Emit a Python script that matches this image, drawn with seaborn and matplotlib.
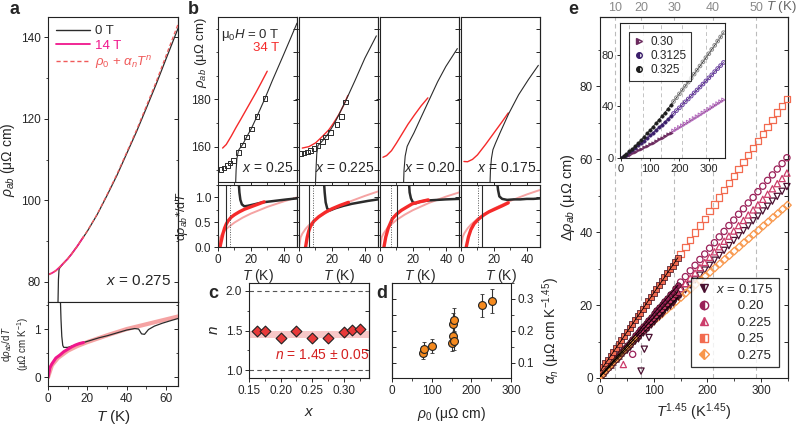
import seaborn as sns
import matplotlib.pyplot as plt
from matplotlib.ticker import MultipleLocator
from matplotlib.lines import Line2D

# ---------------- panel a : x = 0.275 ----------------
a_T_fit = [0, 2, 4, 6, 8, 10, 12, 15, 18, 20, 25, 30, 35, 40, 45, 50, 55, 60, 67]
a_rho_fit = [81.7, 82.1, 82.7, 83.6, 84.6, 85.6, 86.8, 88.8, 91.0, 92.5, 96.6, 101.4,
             106.4, 111.8, 117.3, 123.2, 129.2, 135.6, 144.5]
a_T_0T = [4.8, 5.0, 5.3, 5.6, 6.0, 6.5, 7, 8, 10, 12, 15, 20, 25, 30, 35, 40, 45, 50, 55, 60, 67]
a_rho_0T = [70, 73, 80.5, 83.0, 83.4, 83.7, 84.0, 84.6, 85.6, 86.8, 88.8, 92.4, 96.5, 101.2,
            106.1, 111.5, 116.9, 122.7, 128.6, 134.8, 143.4]
a_T_14T = [0, 2, 4, 6, 8, 10, 12, 15, 18]
a_rho_14T = [81.7, 82.1, 82.7, 83.6, 84.6, 85.6, 86.8, 88.8, 91.0]

a_T_dfit = [0, 2, 5, 10, 15, 20, 30, 40, 50, 60, 67]
a_dfit = [0, 0.25, 0.4, 0.55, 0.65, 0.73, 0.87, 1.0, 1.1, 1.2, 1.27]
a_T_d0T = [6.3, 6.6, 7, 7.5, 8, 10, 14, 18, 22, 26, 30, 35, 40, 44, 46, 47.5, 49, 51, 54, 58, 62, 67]
a_d0T = [1.6, 1.2, 0.85, 0.66, 0.62, 0.62, 0.67, 0.72, 0.77, 0.82, 0.86, 0.92, 0.98, 1.01,
         1.0, 0.9, 0.89, 0.99, 1.06, 1.12, 1.17, 1.23]
a_T_d14T = [0, 0.5, 1, 2, 3, 4, 6, 8, 10, 12, 14, 16, 18]
a_d14T = [0, 0.1, 0.2, 0.28, 0.34, 0.4, 0.46, 0.53, 0.58, 0.63, 0.67, 0.7, 0.72]

# ---------------- panel b : four dopings ----------------
b_labels = ['0.25', '0.225', '0.20', '0.175']
b_T0 = [[10.5, 11.0, 11.5, 12.5, 14, 15, 17.4, 20.2, 23.8, 28.5, 33, 39.6, 44, 48],
        [9.8, 10.3, 10.8, 11.5, 13, 15, 18, 21, 24, 28.3, 34, 40, 47],
        [14.1, 14.6, 15.3, 16.5, 18.5, 20.6, 25, 30, 35, 40, 47],
        [17.4, 17.9, 18.5, 19.4, 21, 24, 29, 35, 41, 47]]
b_rho0 = [[140, 150, 155, 158.5, 160, 160.9, 164.1, 167.6, 173, 180.4, 188, 198.6, 205.8, 212.4],
          [140, 150, 157, 160.5, 161.5, 163, 165.8, 169.2, 173.2, 179.3, 188, 197.5, 207],
          [140, 150, 156, 160.1, 163, 165.8, 172.5, 180, 187.5, 194, 201.6],
          [140, 150, 155, 158.7, 161.5, 166.3, 174, 182, 188.5, 194.5]]
b_T34 = [[2.8, 5, 8, 11, 14, 17, 20, 23, 26, 29.9],
         [2, 6, 10.1, 14, 18.2, 21, 24.2, 27, 29.7],
         [1.8, 4, 7, 10, 13.5, 17, 21, 25, 29.1],
         [1.8, 4, 7, 10, 15, 20, 25, 28.7]]
b_rho34 = [[159.4, 160.9, 164.4, 168.2, 171.8, 175.5, 179.2, 182.9, 186.8, 192.0],
           [159.4, 160.0, 161.6, 164.2, 167.2, 170.0, 173.6, 177.4, 181.7],
           [155.5, 156.2, 158.3, 161.5, 165.5, 169.5, 173.5, 177.3, 180.7],
           [153.7, 153.6, 154.6, 156.5, 161.0, 165.8, 170.6, 174.3]]
b_Tsq = [[1.8, 3.6, 5.7, 7.3, 9.3, 12.3, 15, 17.4, 20.2, 23.8, 28.5],
         [1, 3, 5, 7, 9.1, 11.5, 14.1, 16.2, 19.2, 23.2, 25.9, 28.3], [], []]
b_rhosq = [[150.2, 150.9, 152.1, 153.1, 154.0, 157.6, 160.7, 164.1, 167.5, 172.9, 180.4],
           [157, 157.3, 157.7, 158.4, 159.1, 160.4, 162.3, 164.1, 166.1, 169.4, 172.9, 178.9], [], []]

b_Tc_solid = [4.8, 6.1, 10.5, 12.9]
b_Tc_dot = [7.3, 8.7, 6.9, 10.5]
b_Td0 = [[12.6, 13.0, 13.6, 14.5, 16, 18, 22, 27, 32, 37, 42, 48],
         [15.2, 15.6, 16.2, 17.2, 19, 22, 27, 32, 37, 42, 48],
         [17.6, 18.0, 18.8, 20, 21.6, 25, 30, 35, 40, 48],
         [22, 22.5, 23.3, 25, 28, 32, 36, 40, 44, 48]]
b_d0 = [[1.3, 1.1, 0.95, 0.86, 0.82, 0.83, 0.86, 0.9, 0.92, 0.94, 0.96, 0.98],
        [1.3, 1.1, 0.9, 0.77, 0.74, 0.78, 0.83, 0.87, 0.9, 0.93, 0.96],
        [1.3, 1.1, 0.98, 0.9, 0.88, 0.92, 0.94, 0.95, 0.96, 0.97],
        [1.3, 1.15, 1.02, 0.97, 0.95, 0.96, 0.96, 0.97, 0.97, 0.98]]
b_Td34 = [[1.2, 2, 3, 4, 5, 6, 8, 10, 13, 16, 20, 24, 28],
          [4.0, 5, 6, 7, 9, 12, 16, 20, 25, 30],
          [2.4, 3.5, 5, 7.5, 10, 13, 16, 19.6, 24, 29.3],
          [3.2, 4.5, 6, 8, 10.9, 14, 17, 21, 25, 28.7]]
b_d34 = [[0, 0.12, 0.27, 0.38, 0.46, 0.52, 0.6, 0.65, 0.71, 0.76, 0.81, 0.86, 0.91],
         [0, 0.2, 0.33, 0.42, 0.52, 0.61, 0.7, 0.77, 0.84, 0.9],
         [0, 0.2, 0.38, 0.57, 0.66, 0.74, 0.8, 0.87, 0.91, 0.95],
         [0, 0.2, 0.35, 0.47, 0.57, 0.65, 0.71, 0.77, 0.83, 0.89]]
b_Tdfit = [0, 1, 2, 4, 6, 10, 15, 20, 30, 40, 48]
b_dfit = [[0, 0.175, 0.239, 0.327, 0.392, 0.493, 0.592, 0.674, 0.809, 0.92, 1.0],
          [0, 0.196, 0.268, 0.366, 0.439, 0.552, 0.662, 0.755, 0.906, 1.03, 1.12],
          [0, 0.193, 0.264, 0.36, 0.432, 0.544, 0.652, 0.743, 0.892, 1.015, 1.1],
          [0, 0.201, 0.275, 0.376, 0.451, 0.567, 0.681, 0.776, 0.931, 1.06, 1.15]]

# ---------------- panel c : exponent n ----------------
c_x = [0.1625, 0.175, 0.20, 0.225, 0.25, 0.275, 0.30, 0.3125, 0.325]
c_n = [1.50, 1.50, 1.40, 1.50, 1.40, 1.40, 1.48, 1.51, 1.52]

# ---------------- panel d : alpha_n vs rho_0 ----------------
d_rho0 = [78, 81, 102, 152, 153, 157, 153, 157, 226, 252]
d_alpha = [0.132, 0.145, 0.153, 0.163, 0.222, 0.234, 0.184, 0.169, 0.280, 0.294]
d_err = [0.02, 0.022, 0.022, 0.025, 0.035, 0.037, 0.03, 0.03, 0.035, 0.037]

# ---------------- panel e : delta rho vs T^1.45 ----------------
e_x_34T = [0, 5, 10, 15, 20, 25, 30, 35, 40, 45, 50, 55, 60, 65, 70, 75, 80, 85, 90, 95,
           100, 105, 110, 115, 120, 125, 130, 135, 140, 145]
e_x_0T = [150, 159, 168, 177, 186, 195, 204, 213, 222, 231, 240, 249, 258, 267, 276, 285,
          294, 303, 312, 321, 330, 339, 348]
e175_34T = [0.3, 1.1, 1.8, 2.6, 3.3, 4.1, 4.8, 5.6, 6.3, 7.1, 7.8, 8.6, 9.3, 10.1, 10.8, 11.6,
            12.3, 13.1, 13.8, 14.6, 15.3, 16.1, 16.8, 17.6, 18.3, 19.1, 19.8, 20.6, 21.3, 22.1]
e175_0T = [22.8, 24.2, 25.5, 26.9, 28.2, 29.6, 30.9, 32.3, 33.6, 35.0, 36.3, 37.7, 39.0, 40.4,
           41.7, 43.1, 44.4, 45.8, 47.1, 48.5, 49.8, 51.2, 52.5]
e175_out_x = [76.4, 82.6, 91.3]
e175_out_y = [1.9, 7.9, 11.1]
e20_34T = [0.5, 1.4, 2.2, 3.1, 3.9, 4.8, 5.7, 6.5, 7.4, 8.2, 9.1, 10.0, 10.8, 11.7, 12.5, 13.4,
           14.3, 15.1, 16.0, 16.8, 17.7, 18.6, 19.4, 20.3, 21.1, 22.0, 22.9, 23.7, 24.6, 25.4]
e20_0T = [26.3, 27.8, 29.4, 30.9, 32.5, 34.0, 35.6, 37.1, 38.7, 40.2, 41.8, 43.3, 44.9, 46.4,
          48.0, 49.5, 51.1, 52.6, 54.2, 55.7, 57.3, 58.8, 60.4]
e20_out_x = [60.8]
e20_out_y = [6.5]
e225_34T = [0.5, 1.3, 2.1, 2.9, 3.7, 4.5, 5.3, 6.1, 6.9, 7.7, 8.5, 9.3, 10.1, 10.9, 11.7, 12.5,
            13.3, 14.1, 14.9, 15.7, 16.5, 17.3, 18.1, 18.9, 19.7, 20.5, 21.3, 22.1, 22.9, 23.7]
e225_0T = [24.5, 25.9, 27.4, 28.8, 30.3, 31.7, 33.1, 34.6, 36.0, 37.5, 38.9, 40.3, 41.8, 43.2,
           44.7, 46.1, 47.5, 49.0, 50.4, 51.9, 53.3, 54.7, 56.2]
e225_out_x = [43.5]
e225_out_y = [3.7]
e25_34T = [1.8, 2.9, 4.0, 5.0, 6.1, 7.2, 8.3, 9.3, 10.4, 11.5, 12.6, 13.6, 14.7, 15.8, 16.9,
           17.9, 19.0, 20.1, 21.2, 22.2, 23.3, 24.4, 25.5, 26.5, 27.6, 28.7, 29.8, 30.8, 31.9, 33.0]
e25_0T = [34.1, 36.0, 37.9, 39.9, 41.8, 43.7, 45.7, 47.6, 49.5, 51.5, 53.4, 55.3, 57.3, 59.2,
          61.1, 63.1, 65.0, 66.9, 68.9, 70.8, 72.8, 74.7, 76.6]
e275_x_14T = [0, 5, 10, 15, 20, 25, 30, 35, 40, 45, 50, 55, 60, 65]
e275_14T = [0.4, 1.2, 2.0, 2.8, 3.7, 4.5, 5.3, 6.1, 6.9, 7.7, 8.6, 9.4, 10.2, 11.0]
e275_x_0T = [70, 79, 88, 97, 106, 115, 124, 133, 142, 151, 160, 169, 178, 187, 196, 205, 214,
             223, 232, 241, 250, 259, 268, 277, 286, 295, 304, 313, 322, 331, 340, 349]
e275_0T = [11.8, 12.9, 14.1, 15.2, 16.4, 17.5, 18.7, 19.8, 21.0, 22.1, 23.3, 24.4, 25.6, 26.7,
           27.9, 29.0, 30.2, 31.3, 32.5, 33.6, 34.8, 35.9, 37.1, 38.2, 39.4, 40.5, 41.7, 42.8,
           44.0, 45.1, 46.3, 47.4]
e_T_marks = [10, 20, 30, 40, 50]

# inset of e : x = 0.30, 0.3125, 0.325
ins_x_fill = [0, 10, 20, 30, 40, 50, 60, 70, 80, 90, 100, 110, 120, 130, 140, 150, 160, 170]
ins_x_open = [180, 190, 200, 210, 220, 230, 240, 250, 260, 270, 280, 290, 300, 310, 320, 330, 340, 350]
ins30_fill = [0, 0.75, 1.7, 2.7, 3.7, 4.8, 5.9, 7.1, 8.2, 9.4, 10.7, 11.9, 13.1, 14.4, 15.7, 17.0, 18.3, 19.6]
ins30_open = [21.0, 22.3, 23.7, 25.0, 26.4, 27.8, 29.2, 30.6, 32.0, 33.4, 34.9, 36.3, 37.7, 39.2, 40.7, 42.1, 43.6, 45.0]
ins3125_fill = [0, 1.2, 2.7, 4.4, 6.1, 7.9, 9.7, 11.6, 13.5, 15.5, 17.5, 19.5, 21.6, 23.7, 25.8, 28.0, 30.1, 32.3]
ins3125_open = [34.5, 36.7, 38.9, 41.2, 43.5, 45.7, 48.0, 50.4, 52.7, 55.0, 57.3, 59.7, 62.1, 64.4, 66.9, 69.3, 71.6, 74.0]
ins325_fill = [0, 1.4, 3.1, 5.1, 7.2, 9.4, 11.7, 14.1, 16.6, 19.1, 21.6, 24.2, 26.9, 29.6, 32.3, 35.1, 37.9, 40.9]
ins325_open = [43.8, 46.7, 49.7, 52.7, 55.7, 58.8, 61.9, 65.0, 68.1, 71.3, 74.5, 77.7, 80.8, 84.1, 87.3, 90.6, 93.8, 97.1]

MAG = '#f0168c'
RED = '#f52a2a'
PINK = '#f5a3a3'
BLK = '#2b2b2b'

sns.set_style('ticks')
plt.rcParams.update({
    'font.family': ['Liberation Sans', 'DejaVu Sans'],
    'mathtext.fontset': 'custom',
    'mathtext.rm': 'Liberation Sans',
    'mathtext.it': 'Liberation Sans:italic',
    'mathtext.bf': 'Liberation Sans:bold',
    'axes.linewidth': 0.8,
    'axes.edgecolor': '#222222',
    'xtick.labelsize': 8.5,
    'ytick.labelsize': 8.5,
    'axes.labelsize': 10,
    'xtick.major.size': 3, 'ytick.major.size': 3,
    'xtick.minor.size': 1.8, 'ytick.minor.size': 1.8,
    'xtick.major.width': 0.7, 'ytick.major.width': 0.7,
    'xtick.minor.width': 0.6, 'ytick.minor.width': 0.6,
    'xtick.major.pad': 2, 'ytick.major.pad': 2,
})

fig = plt.figure(figsize=(7.98, 4.25), dpi=100)


def box(left, top, w, h):
    # place axes using pixel rectangle of the 798x425 canvas
    return fig.add_axes([left / 798, 1 - (top + h) / 425, w / 798, h / 425])


def curve(ax, x, y, **kw):
    sns.lineplot(x=x, y=y, ax=ax, estimator=None, sort=False, legend=False, **kw)


def dots(ax, x, y, **kw):
    sns.scatterplot(x=x, y=y, ax=ax, legend=False, **kw)


def mirror(ax, major, minor=None, side='right'):
    sec = ax.secondary_yaxis(side)
    sec.yaxis.set_major_locator(MultipleLocator(major))
    if minor:
        sec.yaxis.set_minor_locator(MultipleLocator(minor))
    sec.tick_params(which='both', direction='in', labelright=False, labelleft=False)
    return sec


one_dec = plt.FuncFormatter(lambda v, p: f'{v:.1f}')

# ================= panel a =================
ax_a = box(48, 17, 130, 285)
curve(ax_a, a_T_0T, a_rho_0T, color=BLK, lw=0.9)
curve(ax_a, a_T_14T, a_rho_14T, color=MAG, lw=1.3)
curve(ax_a, a_T_fit, a_rho_fit, color='#f05a5a', lw=0.9, linestyle=(0, (3, 2)))
ax_a.set_xlim(0, 66)
ax_a.set_ylim(75, 145)
ax_a.yaxis.set_major_locator(MultipleLocator(20))
ax_a.yaxis.set_minor_locator(MultipleLocator(10))
ax_a.xaxis.set_major_locator(MultipleLocator(20))
ax_a.xaxis.set_minor_locator(MultipleLocator(10))
ax_a.tick_params(labelbottom=False)
mirror(ax_a, 20, 10)
ax_a.set_ylabel(r'$\rho_{ab}$ (μΩ cm)', labelpad=3)
ax_a.text(0.95, 0.06, r'$x$ = 0.275', transform=ax_a.transAxes, ha='right', fontsize=11)
h_a = [Line2D([], [], color=BLK, lw=1),
       Line2D([], [], color=MAG, lw=1.3),
       Line2D([], [], color='#f05a5a', lw=1, ls=(0, (3, 2)))]
leg = ax_a.legend(h_a, ['0 T', '14 T', r'$\rho_0$ + $\alpha_n T^n$'], loc='upper left',
                  bbox_to_anchor=(0.02, 0.99), frameon=False, fontsize=9.5,
                  handlelength=2.6, handletextpad=0.4, labelspacing=0.15, borderaxespad=0)
for t, c in zip(leg.get_texts(), [BLK, MAG, '#f05a5a']):
    t.set_color(c)

ax_a2 = box(48, 302, 130, 84)
curve(ax_a2, a_T_dfit, a_dfit, color=PINK, lw=3)
curve(ax_a2, a_T_d0T, a_d0T, color=BLK, lw=0.9)
curve(ax_a2, a_T_d14T, a_d14T, color=MAG, lw=2.2)
ax_a2.set_xlim(0, 66)
ax_a2.set_ylim(-0.18, 1.56)
ax_a2.yaxis.set_major_locator(MultipleLocator(1))
ax_a2.yaxis.set_minor_locator(MultipleLocator(0.5))
ax_a2.xaxis.set_major_locator(MultipleLocator(20))
ax_a2.xaxis.set_minor_locator(MultipleLocator(10))
mirror(ax_a2, 1, 0.5)
ax_a2.set_xlabel(r'$T$ (K)', fontsize=11, labelpad=2)
# two-line y label, placed line by line so it stays inside the canvas
fig.text(7 / 798, 1 - 344 / 425, r'd$\rho_{ab}$/d$T$', rotation=90, fontsize=7,
         ha='center', va='center')
fig.text(23 / 798, 1 - 344 / 425, r'(μΩ cm K$^{-1}$)', rotation=90, fontsize=7,
         ha='center', va='center')

# ================= panel b =================
for i, left in enumerate([218, 299, 380, 461]):
    top_ax = box(left, 17, 79, 165)
    curve(top_ax, b_T34[i], b_rho34[i], color=RED, lw=1.0)
    curve(top_ax, b_T0[i], b_rho0[i], color=BLK, lw=0.8)
    if b_Tsq[i]:
        dots(top_ax, b_Tsq[i], b_rhosq[i], marker='s', s=11, facecolors='none',
             edgecolor=BLK, linewidth=0.7, zorder=5)
    top_ax.set_xlim(0, 48)
    top_ax.set_ylim(145, 215)
    top_ax.set_yticks([160, 180])
    top_ax.yaxis.set_minor_locator(MultipleLocator(10))
    top_ax.xaxis.set_major_locator(MultipleLocator(20))
    top_ax.xaxis.set_minor_locator(MultipleLocator(10))
    top_ax.tick_params(labelbottom=False)
    mirror(top_ax, 10)
    top_ax.text(0.96, 0.04, r'$x$ = ' + b_labels[i], transform=top_ax.transAxes,
                ha='right', va='bottom', fontsize=10)

    bot_ax = box(left, 185, 79, 62)
    curve(bot_ax, b_Tdfit, b_dfit[i], color=PINK, lw=1.4)
    curve(bot_ax, b_Td0[i], b_d0[i], color=BLK, lw=1.8)
    curve(bot_ax, b_Td34[i], b_d34[i], color=RED, lw=2.4)
    bot_ax.axvline(b_Tc_solid[i], color=BLK, lw=0.8)
    bot_ax.axvline(b_Tc_dot[i], color='#555555', lw=0.7, ls=(0, (1, 1.5)))
    bot_ax.set_xlim(0, 48)
    bot_ax.set_ylim(0, 1.25)
    bot_ax.yaxis.set_major_locator(MultipleLocator(0.5))
    bot_ax.yaxis.set_minor_locator(MultipleLocator(0.25))
    bot_ax.yaxis.set_major_formatter(one_dec)
    bot_ax.xaxis.set_major_locator(MultipleLocator(20))
    bot_ax.xaxis.set_minor_locator(MultipleLocator(10))
    mirror(bot_ax, 0.25)
    bot_ax.set_xlabel(r'$T$ (K)', fontsize=10, labelpad=1)
    if i == 0:
        top_ax.set_ylabel(r'$\rho_{ab}$ (μΩ cm)', loc='top', fontsize=9.5)
        top_ax.yaxis.set_label_coords(-0.12, 1.0)
        top_ax.text(0.78, 0.94, r'μ$_0$$H$ = 0 T', transform=top_ax.transAxes,
                    ha='right', va='top', fontsize=9.5, color=BLK)
        top_ax.text(0.78, 0.85, '34 T', transform=top_ax.transAxes,
                    ha='right', va='top', fontsize=9.5, color=RED)
        bot_ax.set_ylabel(r'd$\rho_{ab}$*/d$T$', fontsize=9)
        bot_ax.yaxis.set_label_coords(-0.36, 0.5)
    else:
        top_ax.tick_params(labelleft=False)
        bot_ax.tick_params(labelleft=False)

# ================= panel c =================
ax_c = box(249, 283, 120, 95)
ax_c.axhspan(1.40, 1.50, color='#f8c8c8', lw=0)
ax_c.axhline(2.0, color='#555555', lw=0.8, ls=(0, (4, 3)))
ax_c.axhline(1.0, color='#555555', lw=0.8, ls=(0, (4, 3)))
dots(ax_c, c_x, c_n, marker='D', s=30, color='#e83a3a', edgecolor='#222222', linewidth=0.8, zorder=5)
ax_c.set_xlim(0.15, 0.34)
ax_c.set_ylim(0.9, 2.1)
ax_c.xaxis.set_major_locator(MultipleLocator(0.05))
ax_c.xaxis.set_minor_locator(MultipleLocator(0.025))
ax_c.yaxis.set_major_locator(MultipleLocator(0.5))
ax_c.yaxis.set_minor_locator(MultipleLocator(0.25))
ax_c.xaxis.set_major_formatter(plt.FuncFormatter(lambda v, p: f'{v:.2f}'))
ax_c.yaxis.set_major_formatter(one_dec)
mirror(ax_c, 0.25)
ax_c.text(0.266, 1.19, r'$n$ = 1.45 ± 0.05', color='#d42020', fontsize=10, ha='center', va='center')
ax_c.set_xlabel(r'$x$', fontsize=11, labelpad=6)
ax_c.set_ylabel(r'$n$', fontsize=11, labelpad=3)

# ================= panel d =================
ax_d = box(392, 283, 119, 95)
ax_d.errorbar(d_rho0, d_alpha, yerr=d_err, fmt='none', ecolor='#333333', elinewidth=0.8,
              capsize=1.5, capthick=0.6)
dots(ax_d, d_rho0, d_alpha, marker='o', s=32, color='#f58a1f', edgecolor='#222222',
     linewidth=0.8, zorder=5)
ax_d.set_xlim(0, 300)
ax_d.set_ylim(0.053, 0.35)
ax_d.xaxis.set_major_locator(MultipleLocator(100))
ax_d.xaxis.set_minor_locator(MultipleLocator(50))
ax_d.yaxis.set_major_locator(MultipleLocator(0.1))
ax_d.yaxis.set_minor_locator(MultipleLocator(0.05))
ax_d.yaxis.set_major_formatter(one_dec)
ax_d.yaxis.tick_right()
ax_d.yaxis.set_label_position('right')
mirror(ax_d, 0.05, side='left')
ax_d.set_xlabel(r'$\rho_0$ (μΩ cm)', fontsize=10, labelpad=6)
ax_d.set_ylabel(r'$\alpha_n$ (μΩ cm K$^{-1.45}$)', fontsize=10, labelpad=4)

# ================= panel e =================
ax_e = box(600, 17, 188, 361)
for t in e_T_marks:
    ax_e.axvline(t ** 1.45, color='#bbbbbb', lw=0.8, ls=(0, (4, 3)), zorder=0)

e_series = [
    ('0.175', 'v', '#4a1030', e_x_34T, e175_34T, e_x_0T, e175_0T, e175_out_x, e175_out_y),
    ('0.20', 'o', '#9a2058', e_x_34T, e20_34T, e_x_0T, e20_0T, e20_out_x, e20_out_y),
    ('0.225', '^', '#cc3d6b', e_x_34T, e225_34T, e_x_0T, e225_0T, e225_out_x, e225_out_y),
    ('0.25', 's', '#f26b50', e_x_34T, e25_34T, e_x_0T, e25_0T, [], []),
    ('0.275', 'D', '#f8964a', e275_x_14T, e275_14T, e275_x_0T, e275_0T, [], []),
]
for lab, mk, col, xf, yf, xo, yo, xs, ys in e_series:
    sz = 20 if mk != 'D' else 15
    dots(ax_e, xo, yo, marker=mk, s=sz, facecolors='none', edgecolor=col, linewidth=0.9,
         clip_on=False, zorder=3)
    if xs:
        dots(ax_e, xs, ys, marker=mk, s=sz, facecolors='none', edgecolor=col, linewidth=0.9, zorder=3)
for lab, mk, col, xf, yf, xo, yo, xs, ys in e_series:
    sz = 16 if mk != 'D' else 13
    dots(ax_e, xf, yf, marker=mk, s=sz, color=col, edgecolor='#3a0a1a', linewidth=0.5, zorder=4)
    curve(ax_e, xf, yf, color='black', lw=0.6, zorder=5)

ax_e.set_xlim(0, 350)
ax_e.set_ylim(0, 99)
ax_e.xaxis.set_major_locator(MultipleLocator(100))
ax_e.xaxis.set_minor_locator(MultipleLocator(50))
ax_e.yaxis.set_major_locator(MultipleLocator(20))
ax_e.yaxis.set_minor_locator(MultipleLocator(10))
mirror(ax_e, 10)
ax_e.set_xlabel(r'$T^{1.45}$ (K$^{1.45}$)', fontsize=10.5, labelpad=3)
ax_e.set_ylabel(r'$\Delta\rho_{ab}$ (μΩ cm)', fontsize=10.5, labelpad=2)

top = ax_e.secondary_xaxis('top')
top.set_xticks([t ** 1.45 for t in e_T_marks], [str(t) for t in e_T_marks])
top.tick_params(length=0, labelcolor='#8a8a8a', labelsize=9, pad=2)
ax_e.text(309, 1.028, r'$T$ (K)', transform=ax_e.get_xaxis_transform(), ha='left',
          va='center', fontsize=9.5, color='#666666')

e_handles = [Line2D([], [], marker=mk, ls='none', color=col, markerfacecolor=col,
                    markerfacecoloralt='white', fillstyle='left', markeredgecolor=col,
                    markersize=6 if mk != 'D' else 5.5)
             for lab, mk, col, *_ in e_series]
e_labels = [r'$x$ = 0.175', '      0.20', '      0.225', '      0.25', '      0.275']
leg_e = ax_e.legend(e_handles, e_labels, loc='lower right', bbox_to_anchor=(0.985, 0.012),
                    fontsize=9.5, frameon=True, fancybox=False, edgecolor='black',
                    handletextpad=0.4, labelspacing=0.32, borderpad=0.4, handlelength=1.1)
leg_e.get_frame().set_linewidth(0.9)

# inset
ax_i = box(620, 23, 105, 135)
for t in e_T_marks:
    ax_i.axvline(t ** 1.45, color='#c4c4c4', lw=0.7, ls=(0, (4, 3)), zorder=0)
ins_series = [
    ('0.30', '>', '#b46bbf', '#6b2a5e', ins30_fill, ins30_open),
    ('0.3125', 'o', '#6a3fa0', '#3b1f6b', ins3125_fill, ins3125_open),
    ('0.325', 'o', '#8a8a8a', '#1e1e1e', ins325_fill, ins325_open),
]
for lab, mk, col_open, col_fill, yf, yo in ins_series:
    dots(ax_i, ins_x_open, yo, marker=mk, s=7, facecolors='none', edgecolor=col_open,
         linewidth=0.7, zorder=3)
    dots(ax_i, ins_x_fill, yf, marker=mk, s=6, color=col_fill, edgecolor=col_fill,
         linewidth=0.4, zorder=4)
    curve(ax_i, ins_x_fill + ins_x_open, yf + yo, color=col_fill, lw=0.6, zorder=2)
ax_i.set_xlim(-2, 355)
ax_i.set_ylim(0, 104.6)
ax_i.xaxis.set_major_locator(MultipleLocator(100))
ax_i.yaxis.set_major_locator(MultipleLocator(40))
ax_i.tick_params(labelsize=8, length=2.5)
ax_i.set_facecolor('white')
i_handles = [Line2D([], [], marker=mk, ls='none', color=cf, markerfacecolor=cf,
                    markerfacecoloralt='white', fillstyle='left', markeredgecolor=cf,
                    markersize=4)
             for lab, mk, co, cf, *_ in ins_series]
leg_i = ax_i.legend(i_handles, [s[0] for s in ins_series], loc='upper left',
                    bbox_to_anchor=(0.03, 0.98), fontsize=8.5, frameon=True, fancybox=False,
                    edgecolor='black', handletextpad=0.5, labelspacing=0.2, borderpad=0.35,
                    handlelength=1.0)
leg_i.get_frame().set_linewidth(0.8)

# panel letters
for letter, px, py in [('a', 10, 9), ('b', 188, 9), ('c', 208, 294), ('d', 376, 294), ('e', 568, 9)]:
    fig.text(px / 798, 1 - py / 425, letter, fontsize=13, fontweight='bold', va='center')

fig.savefig('out.png', dpi=100)
